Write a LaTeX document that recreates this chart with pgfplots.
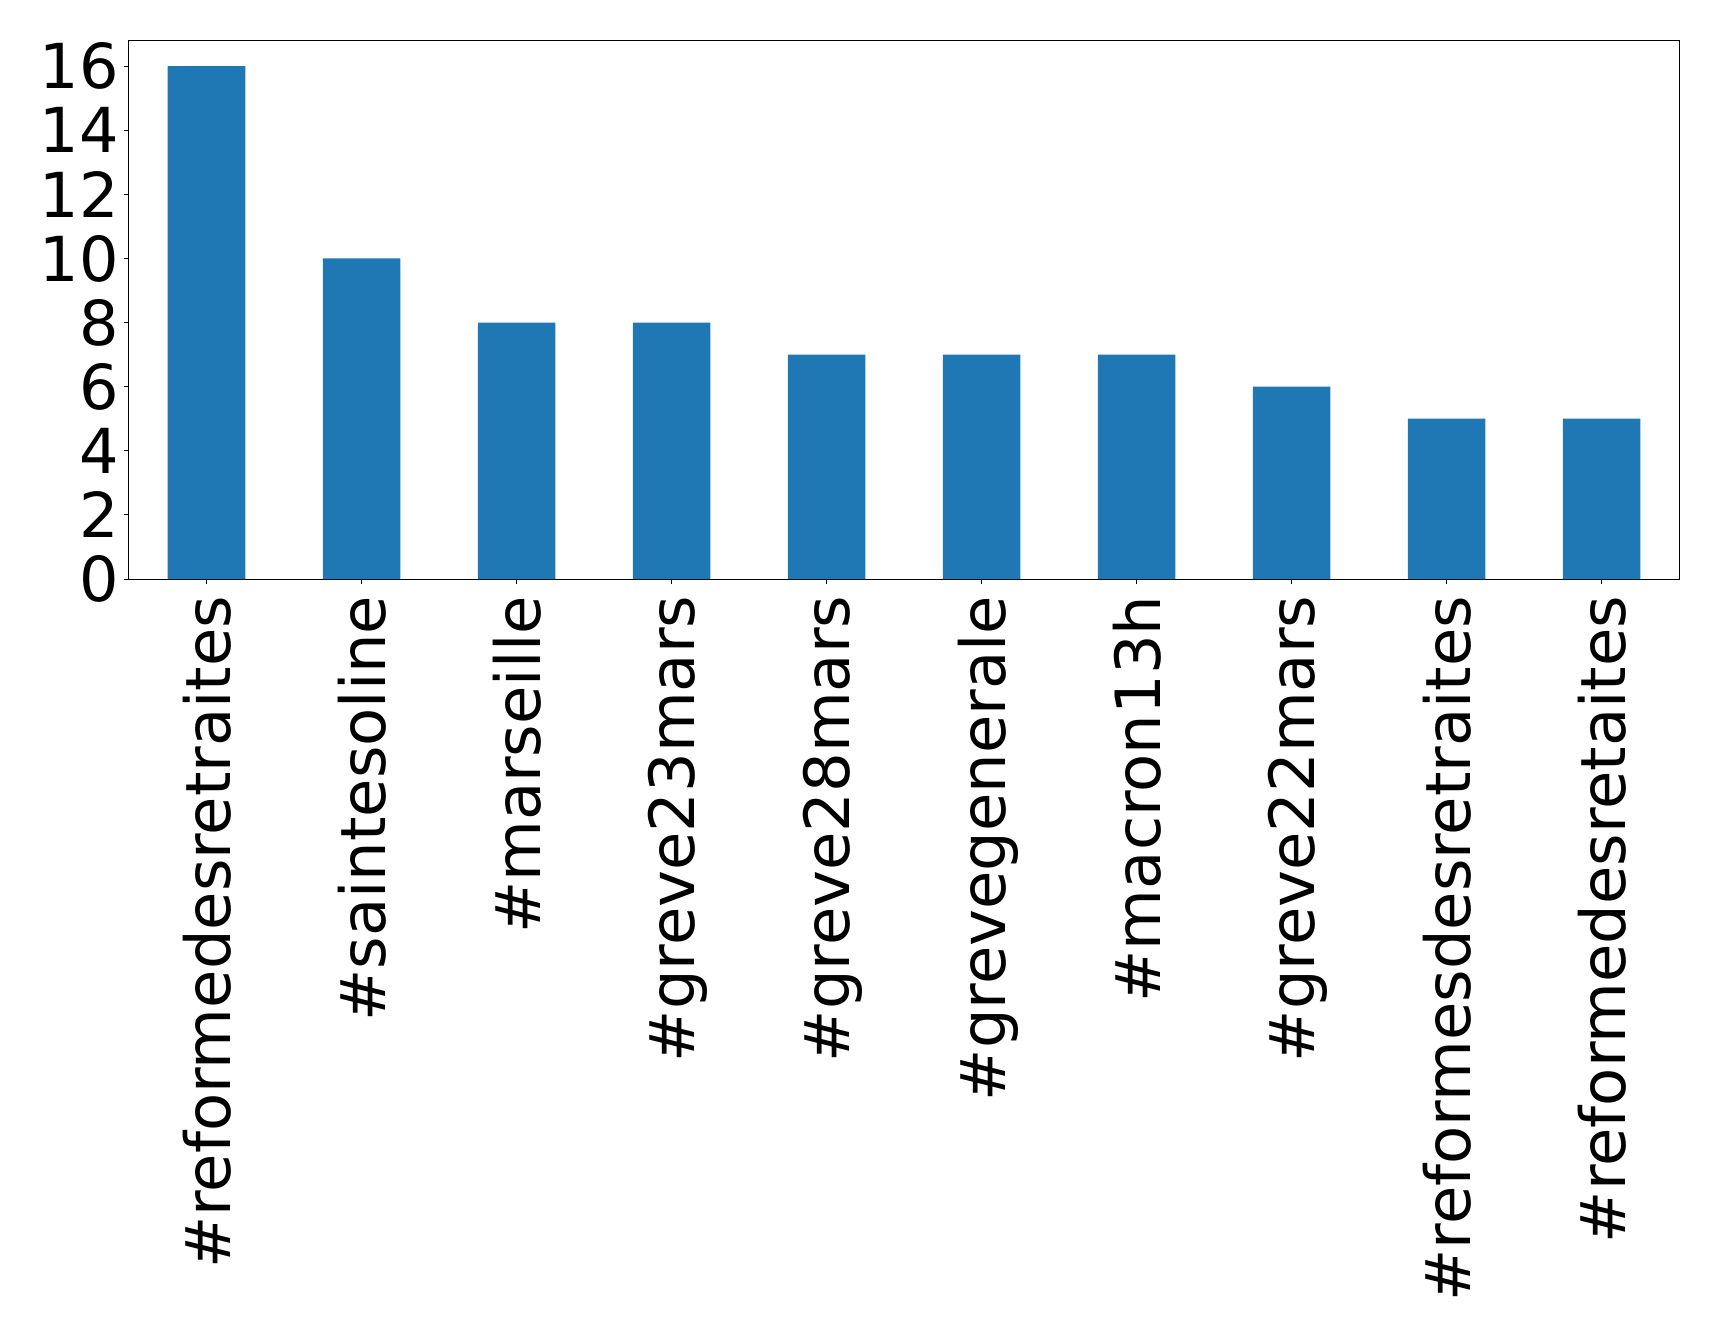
\documentclass[border=0pt]{standalone}
\usepackage{fontspec}
\setmainfont{DejaVu Sans}
\usepackage{pgfplots}
\pgfplotsset{compat=1.18}
\definecolor{mplblue}{HTML}{1F77B4}
\begin{document}
\begin{tikzpicture}
\path[use as bounding box] (-64.5pt,-378pt) rectangle (795pt,289.5pt);
\begin{axis}[
  at={(0,0)}, anchor=south west, scale only axis,
  width=775pt, height=269.25pt,
  xmin=-0.5, xmax=9.5, ymin=0, ymax=16.8,
  xtick={0,...,9}, ytick={0,2,...,16},
  xticklabels={\#reformedesretraites,\#saintesoline,\#marseille,\#greve23mars,\#greve28mars,\#grevegenerale,\#macron13h,\#greve22mars,\#reformesdesretraites,\#reformedesretaites},
  xtick pos=bottom, ytick pos=left,
  tick align=outside, major tick length=2.65pt,
  tick style={black, line width=0.5pt},
  axis line style={line width=0.5pt},
  /pgf/number format/assume math mode=true,
  x tick label style={yshift=-5.5pt, rotate=90, anchor=east, inner sep=0pt, text depth=0pt, font=\fontsize{31.2}{31.2}\selectfont},
  y tick label style={anchor=east, inner sep=0pt, xshift=-2.3pt, font=\fontsize{31}{31}\selectfont},
]
\addplot[ybar, bar width=0.5, fill=mplblue, draw=none] coordinates {
(0,16) (1,10) (2,8) (3,8) (4,7) (5,7) (6,7) (7,6) (8,5) (9,5)
};
\end{axis}
\end{tikzpicture}
\end{document}
